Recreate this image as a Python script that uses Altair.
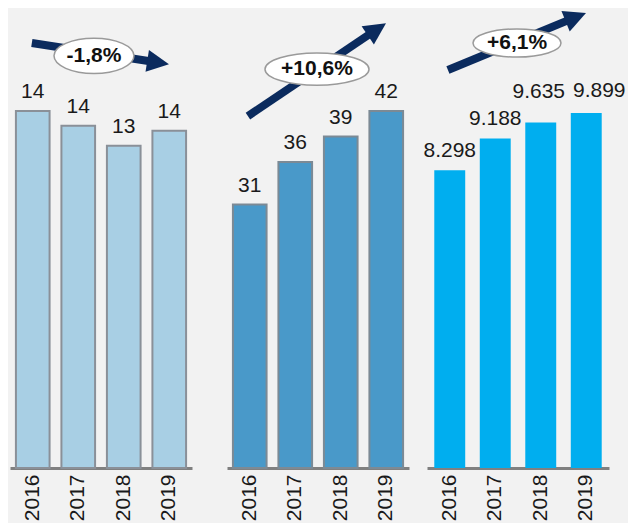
import altair as alt
import pandas as pd

# ---------------- data ----------------
years = ["2016", "2017", "2018", "2019"]
vals_a = [14.4, 13.8, 13.0, 13.6]
vals_b = [31, 36, 39, 42]
vals_c = [8298, 9188, 9635, 9899]
growth = ["-1,8%", "+10,6%", "+6,1%"]

# annotation anchors in data units (u = year index, v = value)
# [tail_u, tail_v, head_u, head_v]
arrow_a = [-0.02, 17.14, 2.755, 16.35]
arrow_b = [-0.04, 41.41, 2.794, 51.63]
arrow_c = [-0.04, 11096, 2.770, 12568]
# [badge_u, badge_v]
badge_a = [1.346, 16.62]
badge_b = [1.478, 46.94]
badge_c = [1.478, 11848]

FONT = "Liberation Sans, Arial, Helvetica, sans-serif"
NAVY = "#0b2b5e"
TRI = "M -1 -1 L 1 0 L -1 1 Z"


def ellipse(r):
    return f"M -1 0 A 1 {r} 0 1 0 1 0 A 1 {r} 0 1 0 -1 0 Z"


def panel(vals, ymax, fill, stroke, pinner, arrow, badge, text, angle,
          ew, er, label_expr, tweaks=None):
    tweaks = tweaks or {}
    df = pd.DataFrame({"year": years, "value": vals})
    ann = pd.DataFrame({
        "u0": [arrow[0]], "v0": [arrow[1]],
        "u1": [arrow[2]], "v1": [arrow[3]],
        "bu": [badge[0]], "bv": [badge[1]], "t": [text],
    })
    yscale = alt.Scale(domain=[0, ymax], nice=False, zero=True)
    bscale = alt.Scale(domain=years, paddingInner=pinner, paddingOuter=pinner / 2)
    uscale = alt.Scale(domain=[-0.5, 3.5], nice=False, zero=False)

    x_axis = alt.X(
        "year:N", sort=years, scale=bscale, title=None,
        axis=alt.Axis(labelAngle=270, labelFontSize=21, labelFont=FONT,
                      labelColor="#1a1a1a", labelPadding=6, ticks=False,
                      domainColor="#808080", domainWidth=3, grid=False),
    )
    x_plain = alt.X("year:N", sort=years, scale=bscale, axis=None)
    y_val = alt.Y("value:Q", scale=yscale, axis=None)

    bar_kw = dict(fill=fill)
    if stroke:
        bar_kw.update(stroke=stroke, strokeWidth=2)
    bars = alt.Chart(df).mark_bar(**bar_kw).encode(x=x_axis, y=y_val)

    base_lab = alt.Chart(df).transform_calculate(lbl=label_expr)
    text_kw = dict(baseline="bottom", fontSize=21, font=FONT, color="#1a1a1a")
    labels = []
    plain_years = [y for y in years if y not in tweaks]
    flt = " || ".join(f"datum.year == '{y}'" for y in plain_years)
    labels.append(base_lab.transform_filter(flt).mark_text(dy=-9, **text_kw).encode(
        x=x_plain, y=y_val, text="lbl:N"))
    for yr, (ddx, ddy) in tweaks.items():
        labels.append(base_lab.transform_filter(f"datum.year == '{yr}'").mark_text(
            dx=ddx, dy=ddy, **text_kw).encode(x=x_plain, y=y_val, text="lbl:N"))

    shaft = alt.Chart(ann).mark_rule(strokeWidth=8, color=NAVY, strokeCap="butt").encode(
        x=alt.X("u0:Q", scale=uscale, axis=None),
        y=alt.Y("v0:Q", scale=yscale, axis=None),
        x2="u1:Q", y2="v1:Q",
    )
    head = alt.Chart(ann).mark_point(shape=TRI, filled=True, size=484, angle=angle,
                                     color=NAVY, opacity=1).encode(
        x=alt.X("u1:Q", scale=uscale, axis=None),
        y=alt.Y("v1:Q", scale=yscale, axis=None),
    )
    oval = alt.Chart(ann).mark_point(shape=ellipse(er), filled=True, fill="white",
                                     stroke="#9a9a9a", strokeWidth=1.5,
                                     size=ew * ew, opacity=1).encode(
        x=alt.X("bu:Q", scale=uscale, axis=None),
        y=alt.Y("bv:Q", scale=yscale, axis=None),
    )
    otext = alt.Chart(ann).mark_text(fontSize=21, fontWeight="bold", font=FONT,
                                     color="#111111").encode(
        x=alt.X("bu:Q", scale=uscale, axis=None),
        y=alt.Y("bv:Q", scale=yscale, axis=None),
        text="t:N",
    )
    return alt.layer(bars, *labels, shaft, head, oval, otext).resolve_scale(
        x="independent").properties(width=182, height=458)


p1 = panel(vals_a, 18.47, "#a8cfe4", "#8a9098", 0.26, arrow_a, badge_a, growth[0],
           9, 80, 0.44, "format(datum.value, '.0f')")
p2 = panel(vals_b, 53.9, "#4999c9", "#7c8a95", 0.26, arrow_b, badge_b, growth[1],
           326, 104, 0.31, "format(datum.value, '.0f')")
p3 = panel(vals_c, 12768, "#00aeef", None, 0.32, arrow_c, badge_c, growth[2],
           338, 88, 0.32, "replace(format(datum.value, ','), ',', '.')",
           tweaks={"2018": (-2, -20), "2019": (13, -12)})

chart = alt.hconcat(p1, alt.hconcat(p2, p3, spacing=14), spacing=35).properties(
    padding=2, background="#f2f2f2"
).configure_view(stroke=None)

chart.save("out.html", embed_options={"renderer": "svg", "actions": False})
